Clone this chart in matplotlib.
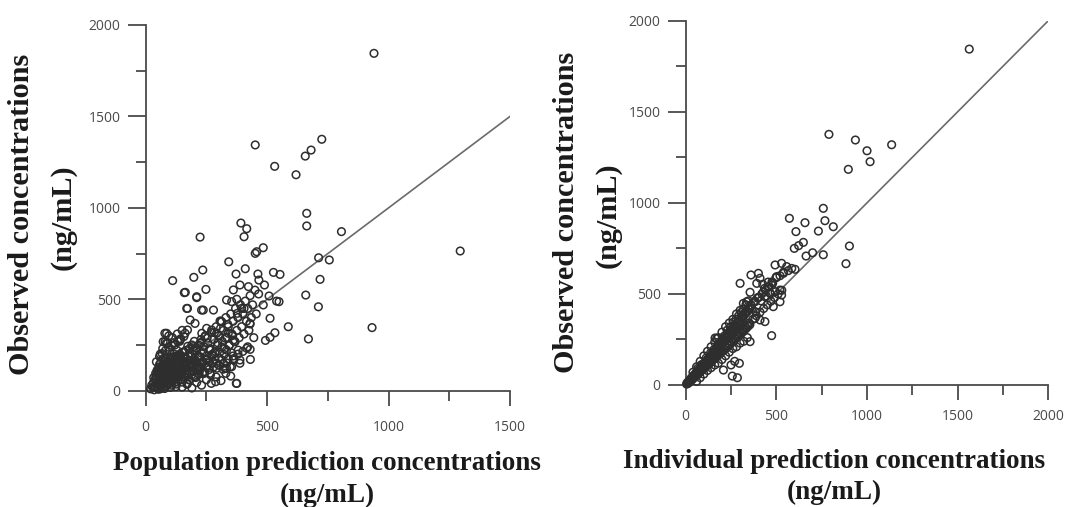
import matplotlib
matplotlib.use("Agg")
import matplotlib.pyplot as plt

# ---------------- data: left panel (population prediction vs observed) ----------------
pop_pred = [940, 451, 725, 681, 657, 531, 619, 663, 663, 806, 1295, 392, 416, 405, 224, 484, 451, 457,
            712, 756, 718, 342, 235, 198, 111, 248, 163, 210, 172, 237, 410, 372, 462, 526, 553, 659,
            711, 587, 670, 932, 493, 512, 532, 512, 465, 484, 539, 549, 508, 489, 466, 423, 430, 431,
            373, 288,
            388, 361, 333, 354, 375, 395, 405, 377, 306, 313, 279, 251, 272, 292, 340, 361, 381, 416,
            430, 333, 361, 388, 327, 354, 224, 251, 196, 224, 183, 203, 231, 244, 265, 285, 141, 162,
            172, 86, 80, 128, 155, 183, 210, 169, 172, 224, 237, 265, 292, 313,
            169, 210, 159, 230, 79, 72, 375, 333, 388, 429,
            20, 25, 30, 32, 35, 38, 40, 42, 45, 48, 50, 52, 55, 55, 58, 60, 60, 62, 65, 65, 68, 70, 70,
            72, 75, 75, 78, 80, 80, 82, 85, 85, 88, 90, 90, 92, 95, 95, 98, 100, 100, 102, 105, 105,
            108, 110, 110, 112, 115, 115, 118, 120, 120, 122, 125, 125, 128, 130, 130, 132, 135, 138,
            140, 140, 142, 145, 145, 148, 150, 150, 152, 155, 158, 160, 160, 162, 165, 168, 170, 172,
            175, 178, 180, 180, 185, 188, 190, 192, 195, 198, 200, 200, 205, 210, 212, 215, 218, 220,
            225, 228, 230, 235, 240, 245, 248, 250, 255, 260, 265, 270, 275, 280, 285, 290, 295, 300,
            305, 310, 315, 320, 325, 330, 335, 340, 345, 350, 355, 360, 365, 370, 375, 380, 385, 390,
            395, 400, 405, 410, 415, 420, 425, 430, 435, 440, 445, 450, 455,
            150, 170, 190, 210, 230, 250, 270, 290, 310, 330, 350, 180, 200, 220, 240, 260, 280, 300,
            320, 340, 360, 380, 400, 420,
            60, 70, 80, 90, 100, 110, 120, 130, 140, 150, 95, 85,
            58, 66, 74, 83, 91, 97, 104, 113, 121, 127, 136, 47, 53, 63, 77, 87, 93, 107, 117, 133,
            33, 37, 41, 44, 47, 51, 54, 57, 61, 64,
            67, 71, 73, 76, 79, 83, 86, 89, 93, 96,
            99, 103, 106, 109, 113, 116, 119, 123, 126, 129,
            133, 136, 139, 143, 146, 149, 153, 156, 159, 163,
            166, 169, 173, 176, 179, 183, 186, 189, 193, 196,
            199, 203, 206, 209, 213, 217, 222, 227, 232, 238,
            243, 247, 253, 257, 263, 267, 272, 277, 283, 287,
            293, 297, 302, 308, 313, 318, 323, 328, 334, 338,
            343, 348, 353, 358, 363, 368, 44, 57, 68, 81,
            94, 107, 118, 131, 144, 157, 52, 78, 102, 124]
pop_obs = [1845, 1344, 1375, 1316, 1283, 1227, 1181, 970, 901, 870, 764, 917, 886, 842, 840, 782, 751, 760,
           727, 715, 609, 705, 660, 620, 602, 554, 538, 509, 450, 441, 667, 638, 638, 647, 636, 523,
           459, 350, 283, 345, 275, 292, 317, 396, 529, 469, 490, 487, 518, 578, 605, 569, 365, 171,
           40, 49,
           578, 551, 496, 487, 500, 450, 450, 423, 381, 377, 441, 341, 332, 314, 314, 277, 222, 232,
           226, 222, 168, 150, 122, 131, 186, 168, 241, 259, 387, 368, 314, 295, 222, 204, 277, 314,
           332, 314, 268, 222, 186, 150, 113, 113, 40, 131, 95, 95, 150, 168,
           450, 514, 536, 441, 314, 268, 40, 122, 168, 368,
           10, 30, 20, 45, 5, 60, 25, 80, 40, 15, 100, 55, 30, 130, 75, 10, 150, 45, 95, 120, 60, 20, 140,
           80, 110, 40, 160, 65, 95, 25, 130, 50, 85, 115, 150, 35, 70, 100, 135, 55, 170, 90, 120, 30,
           75, 145, 100, 60, 180, 125, 85, 45, 155, 110, 70, 190, 135, 95, 50, 165, 115, 80,
           200, 140, 100, 60, 170, 125, 90, 210, 150, 110, 75, 180, 130, 95, 220, 155, 115, 85,
           190, 140, 230, 105, 165, 125, 250, 200, 145, 110, 270, 175, 130, 220, 155, 95, 250, 185,
           120, 280, 205, 160, 240, 300, 130, 190, 260, 160, 230, 320, 200, 280, 170, 350, 250, 300,
           210, 380, 270, 330, 230, 400, 290, 350, 250, 420, 310, 380, 270, 450, 330, 400, 290, 470,
           350, 420, 310, 490, 380, 450, 330, 520, 400, 470, 290, 550, 420,
           20, 35, 15, 45, 30, 60, 40, 75, 55, 95, 80, 60, 75, 90, 105, 115, 130, 140,
           150, 175, 190, 200, 215, 240,
           200, 230, 180, 260, 220, 290, 250, 310, 270, 330, 300, 260,
           110, 125, 140, 70, 160, 85, 150, 65, 175, 100, 90, 95, 120, 55, 105, 140, 120, 60, 165, 75,
           72, 18, 95, 62, 112, 33, 88, 143, 67, 104,
           38, 121, 176, 52, 93, 138, 27, 161, 74, 118,
           43, 185, 84, 137, 58, 201, 97, 148, 36, 173,
           109, 62, 191, 128, 84, 47, 156, 119, 212, 73,
           137, 98, 243, 164, 59, 127, 188, 86, 151, 221,
           104, 166, 72, 236, 131, 183, 112, 264, 147, 208,
           96, 172, 287, 138, 226, 87, 194, 153, 318, 215,
           123, 262, 179, 341, 238, 117, 198, 287, 152, 363,
           246, 131, 207, 302, 176, 268, 158, 187, 203, 219,
           238, 248, 263, 272, 284, 296, 8, 12, 18, 22]

# ---------------- data: right panel (individual prediction vs observed) ----------------
ind_pred = [1564, 790, 936, 1000, 1017, 1136, 897, 759, 768, 814, 732, 903, 884, 759, 700, 664, 572, 608,
            658, 649, 623, 599, 493, 529, 557, 585, 603, 502, 539, 566, 474, 300, 360, 401, 410, 355,
            392, 425, 437, 465, 493, 520, 483, 520, 529, 318, 336, 355, 382, 410, 437, 355, 208, 257,
            285, 296, 171, 162,
            5, 10, 12, 15, 18, 20, 22, 25, 28, 30, 32, 35, 38, 40, 42, 45, 48, 50, 52, 55, 58, 60, 62, 65,
            68, 70, 72, 75, 78, 80, 82, 85, 88, 90, 92, 95, 98, 100, 102, 105, 108, 110, 112, 115, 118,
            120, 122, 125, 128, 130, 132, 135, 138, 140, 142, 145, 148, 150, 152, 155, 158, 160, 162,
            165, 168, 170, 172, 175, 178, 180, 182, 185, 188, 190, 192, 195, 198, 200, 205, 210, 215,
            220, 225, 230, 235, 240, 245, 250, 255, 260, 265, 270, 275, 280, 285, 290, 295, 300, 305,
            310, 315, 320, 325, 330, 335, 340, 345, 350, 360, 370, 380, 390, 400, 410, 420, 430, 440,
            450, 460, 470, 480, 490, 500, 510, 520, 530, 540,
            60, 80, 100, 120, 140, 160, 180, 200, 220, 240, 250, 260, 280, 300, 320, 340, 270,
            40, 60, 80, 100, 120, 140, 160, 180, 200, 220, 240, 260, 280, 300,
            228, 246, 262, 278, 292, 306, 318, 332, 346, 212, 196, 184, 252, 268,
            8, 14, 19, 24, 29, 34, 39, 44, 49, 54,
            59, 64, 69, 74, 79, 84, 89, 94, 99, 104,
            109, 114, 119, 124, 129, 134, 139, 144, 149, 154,
            159, 164, 169, 174, 179, 184, 189, 194, 199, 204,
            209, 214, 219, 224, 229, 234, 239, 244, 249, 254,
            259, 264, 269, 274, 279, 284, 289, 294, 299, 304,
            309, 314, 319, 324, 329, 334, 339, 344, 349, 354,
            66, 87, 113, 136, 157, 178, 203, 226, 247, 271,
            293, 316, 338, 362, 384, 405, 428, 452, 476, 498,
            365, 375, 385, 395, 415, 435, 445, 455, 465, 475]
ind_obs = [1844, 1376, 1345, 1286, 1226, 1319, 1184, 970, 902, 869, 845, 763, 666, 715, 726, 708, 915, 842,
           891, 783, 765, 750, 659, 668, 650, 640, 635, 595, 613, 628, 271, 558, 604, 613, 586, 509,
           558, 553, 485, 503, 512, 521, 430, 457, 494, 448, 457, 421, 366, 357, 348, 238, 82, 49,
           40, 119, 256, 258,
           5, 8, 15, 12, 20, 18, 25, 22, 30, 27, 35, 30, 42, 36, 45, 40, 52, 46, 55, 50, 62, 55, 68, 58,
           72, 64, 80, 70, 85, 74, 90, 78, 95, 85, 100, 88, 108, 92, 115, 98, 120, 102, 125, 105, 130,
           110, 140, 115, 145, 120, 150, 125, 155, 130, 165, 135, 170, 140, 175, 145, 180, 150, 190,
           155, 195, 160, 205, 165, 210, 170, 220, 175, 225, 180, 235, 185, 240, 190, 250, 200, 260,
           210, 270, 220, 285, 230, 295, 240, 305, 250, 320, 260, 330, 270, 345, 280, 355, 290, 370,
           300, 380, 310, 395, 320, 405, 330, 420, 340, 440, 360, 460, 380, 480, 400, 500, 420, 520,
           440, 540, 460, 560, 480, 590, 500, 600, 520, 620,
           20, 40, 60, 80, 95, 110, 120, 140, 160, 180, 110, 200, 210, 230, 240, 260, 130,
           70, 100, 130, 160, 185, 210, 235, 260, 290, 320, 340, 360, 390, 410,
           300, 318, 344, 362, 380, 398, 416, 440, 462, 268, 244, 226, 286, 330,
           12, 10, 24, 20, 36, 30, 48, 41, 58, 49,
           71, 56, 82, 68, 92, 77, 104, 86, 116, 94,
           128, 103, 139, 114, 152, 121, 163, 131, 172, 141,
           186, 149, 197, 158, 208, 168, 219, 176, 231, 186,
           242, 194, 256, 203, 268, 214, 279, 222, 292, 232,
           304, 241, 316, 252, 328, 262, 341, 271, 352, 282,
           366, 291, 377, 302, 391, 311, 402, 322, 416, 331,
           91, 112, 148, 174, 196, 223, 251, 272, 301, 325,
           352, 381, 405, 436, 458, 482, 510, 538, 566, 590,
           420, 455, 402, 478, 462, 530, 488, 565, 505, 548]

x_ticks_left = [0, 500, 1000, 1500]
x_ticks_right = [0, 500, 1000, 1500, 2000]
y_ticks = [0, 500, 1000, 1500, 2000]

W, H = 1067, 507
fig = plt.figure(figsize=(W / 100, H / 100), dpi=100)

def fx(px):
    return px / W

def fy(py):
    return 1 - py / H

ax1 = fig.add_axes([fx(145.7), fy(390.7), fx(510) - fx(145.7), fy(25) - fy(390.7)])
ax2 = fig.add_axes([fx(685.7), fy(385), fx(1048.3) - fx(685.7), fy(20.7) - fy(385)])

mk_color = "#2e2e2e"
spine_color = "#4a4a4a"
tick_color = "#4a4a4a"

def style(ax, xmax, xticks, xpad):
    ax.set_xlim(0, xmax)
    ax.set_ylim(0, 2000)
    for s in ("top", "right"):
        ax.spines[s].set_visible(False)
    for s in ("left", "bottom"):
        ax.spines[s].set_color(spine_color)
        ax.spines[s].set_linewidth(1.3)
    ax.set_xticks(xticks)
    ax.set_xticks(list(range(250, xmax, 500)), minor=True)
    ax.set_yticks(y_ticks)
    ax.set_yticks([250, 750, 1250, 1750], minor=True)
    ax.tick_params(axis="y", which="major", length=13, width=1.3, color=spine_color,
                   labelsize=10, labelcolor=tick_color, pad=5)
    ax.tick_params(axis="y", which="minor", length=7, width=1.3, color=spine_color)
    ax.tick_params(axis="x", which="major", length=11, width=1.3, color=spine_color,
                   labelsize=10, labelcolor=tick_color, pad=xpad)
    ax.tick_params(axis="x", which="minor", length=7, width=1.3, color=spine_color)
    for lab in ax.get_xticklabels() + ax.get_yticklabels():
        lab.set_fontfamily("Open Sans")
    ax.set_facecolor("none")

style(ax1, 1500, x_ticks_left, 10)
style(ax2, 2000, x_ticks_right, 6)

ax1.plot([0, 1500], [0, 1500], color="#6a6a6a", lw=1.2, zorder=1)
ax2.plot([0, 2000], [0, 2000], color="#6a6a6a", lw=1.2, zorder=1)

ax1.scatter(pop_pred, pop_obs, s=30, facecolors="none", edgecolors=mk_color, linewidths=1.1,
            clip_on=False, zorder=3)
ax2.scatter(ind_pred, ind_obs, s=30, facecolors="none", edgecolors=mk_color, linewidths=1.1,
            clip_on=False, zorder=3)

lab_kw = dict(fontfamily="Liberation Serif", fontweight="bold", color="#1a1a1a",
              ha="center", va="center")
xl_size = 19.5
yl_size = 21.8

fig.text(fx(327), fy(463), "Population prediction concentrations", fontsize=xl_size, **lab_kw)
fig.text(fx(327), fy(495), "(ng/mL)", fontsize=xl_size, **lab_kw)
fig.text(fx(834), fy(462), "Individual prediction concentrations", fontsize=xl_size, **lab_kw)
fig.text(fx(834), fy(492), "(ng/mL)", fontsize=xl_size, **lab_kw)

fig.text(fx(22), fy(214), "Observed concentrations", fontsize=yl_size, rotation=90, **lab_kw)
fig.text(fx(63), fy(217), "(ng/mL)", fontsize=yl_size, rotation=90, **lab_kw)
fig.text(fx(567), fy(212), "Observed concentrations", fontsize=yl_size, rotation=90, **lab_kw)
fig.text(fx(608), fy(215), "(ng/mL)", fontsize=yl_size, rotation=90, **lab_kw)

fig.savefig("out.png", dpi=100)
